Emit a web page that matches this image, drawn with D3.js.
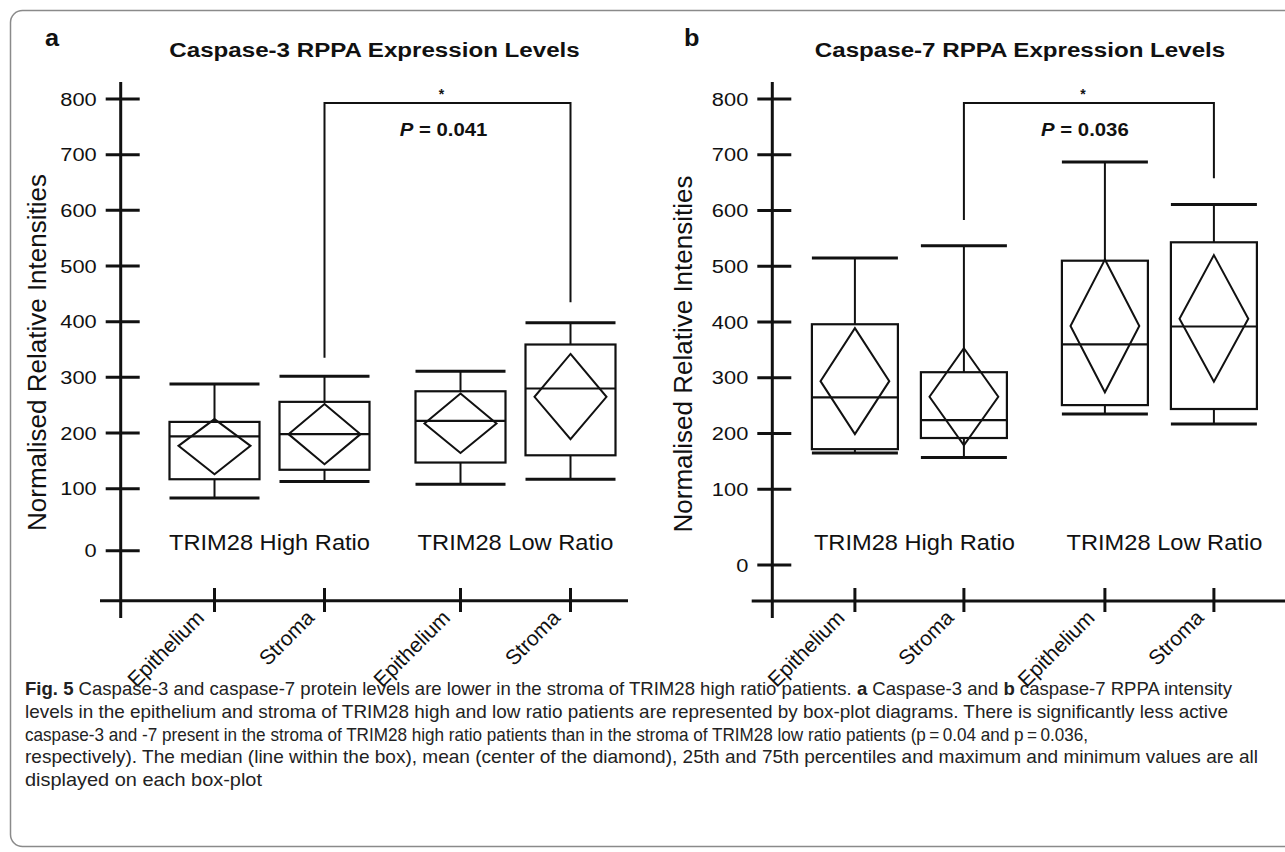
<!DOCTYPE html>
<html>
  <head>
    <meta charset="utf-8">
    <style>
      body { margin: 0; background: #fff; }
      svg { display: block; }
      text { font-family: "Liberation Sans", Arial, sans-serif; fill: #111; }
      .caption text { font-family: "Liberation Sans Narrow", "Liberation Sans", Arial, sans-serif; fill: #222; }
    </style>
  </head>
  <body>
    <svg width="1285" height="852"></svg>
    <script src="https://d3js.org/d3.v7.min.js"></script>
    <script>
      // categories
      var tissues = ["Epithelium", "Stroma"];
      var ratioGroups = ["TRIM28 High Ratio", "TRIM28 Low Ratio"];
      var yTicks = [0, 100, 200, 300, 400, 500, 600, 700, 800];

      // caspase-3 (order: high epi, high stroma, low epi, low stroma)
      var c3Max    = [288, 302, 311, 398];
      var c3Q3     = [220, 256, 275, 359];
      var c3Median = [194, 198, 222, 280];
      var c3Q1     = [117, 134, 147, 160];
      var c3Min    = [85, 113, 108, 117];
      var c3Mean   = [177, 198, 217, 265];
      var c3CiHi   = [225, 252, 271, 342];
      var c3CiLo   = [126, 144, 164, 189];
      // bracket: top, left leg end, right leg end
      var c3Bracket = [793, 335, 435];

      // caspase-7
      var c7Max    = [515, 537, 687, 611];
      var c7Q3     = [396, 310, 510, 543];
      var c7Median = [265, 224, 360, 392];
      var c7Q1     = [172, 192, 251, 244];
      var c7Min    = [165, 157, 235, 217];
      var c7Mean   = [294, 266, 393, 406];
      var c7CiHi   = [389, 353, 512, 520];
      var c7CiLo   = [199, 179, 274, 293];
      var c7Bracket = [793, 583, 658];

      var pValues = ["0.041", "0.036"];

      var captionLines = [
        [["Fig. 5", true], ["  Caspase-3 and caspase-7 protein levels are lower in the stroma of TRIM28 high ratio patients. ", false], ["a", true], [" Caspase-3 and ", false], ["b", true], [" caspase-7 RPPA intensity", false]],
        [["levels in the epithelium and stroma of TRIM28 high and low ratio patients are represented by box-plot diagrams. There is significantly less active", false]],
        [["caspase-3 and -7 present in the stroma of TRIM28 high ratio patients than in the stroma of TRIM28 low ratio patients (p\u2009=\u20090.04 and p\u2009=\u20090.036,", false]],
        [["respectively). The median (line within the box), mean (center of the diamond), 25th and 75th percentiles and maximum and minimum values are all", false]],
        [["displayed on each box-plot", false]]
      ];
      var captionWidths = [1207, 1203, 1063, 1233, 237];

      var svg = d3.select("svg");

      // frame
      svg.append("rect")
        .attr("x", 10.5).attr("y", 10.5)
        .attr("width", 1320).attr("height", 836)
        .attr("rx", 12)
        .attr("fill", "none")
        .attr("stroke", "#8a8a8a")
        .attr("stroke-width", 1.5);

      function txt(g, x, y, s, size, sx, opts) {
        opts = opts || {};
        var t = g.append("text")
          .attr("transform", "translate(" + x + "," + y + ") scale(" + sx + ",1)" + (opts.rotate ? " rotate(" + opts.rotate + ")" : ""))
          .attr("font-size", size)
          .attr("text-anchor", opts.anchor || "middle")
          .attr("font-weight", opts.bold ? "bold" : "normal")
          .text(s);
        if (opts.dy) t.attr("dy", opts.dy);
        return t;
      }

      function drawPanel(p) {
        var g = svg.append("g");

        var y = d3.scaleLinear()
          .domain([0, 100, 800])
          .range(p.yRange);

        var groupX = d3.scalePoint().domain(ratioGroups).range(p.groupRange);
        var subX = d3.scalePoint().domain(tissues).range([-p.subOffset, p.subOffset]);

        var boxes = [];
        ratioGroups.forEach(function(grp, gi) {
          tissues.forEach(function(ts, ti) {
            var i = gi * 2 + ti;
            boxes.push({
              x: groupX(grp) + subX(ts), tissue: ts,
              max: p.max[i], q3: p.q3[i], med: p.median[i], q1: p.q1[i], min: p.min[i],
              mean: p.mean[i], hi: p.ciHi[i], lo: p.ciLo[i]
            });
          });
        });

        // y axis
        g.append("line")
          .attr("x1", p.axisX).attr("x2", p.axisX)
          .attr("y1", 82).attr("y2", 618)
          .attr("stroke", "#111").attr("stroke-width", 3);
        g.selectAll(".ytick").data(yTicks).enter().append("line")
          .attr("x1", p.axisX - 15).attr("x2", p.axisX + 19)
          .attr("y1", function(d) { return y(d); })
          .attr("y2", function(d) { return y(d); })
          .attr("stroke", "#111").attr("stroke-width", 3);
        yTicks.forEach(function(v) {
          txt(g, p.axisX - 24, y(v), v, 19, 1.15, { anchor: "end", dy: "0.35em" });
        });

        // x axis
        g.append("line")
          .attr("x1", p.xAxis[0]).attr("x2", p.xAxis[1])
          .attr("y1", p.xAxisY).attr("y2", p.xAxisY)
          .attr("stroke", "#111").attr("stroke-width", 3);
        g.selectAll(".xtick").data(boxes).enter().append("line")
          .attr("x1", function(d) { return d.x; })
          .attr("x2", function(d) { return d.x; })
          .attr("y1", 588).attr("y2", 612)
          .attr("stroke", "#111").attr("stroke-width", 3);
        boxes.forEach(function(d) {
          txt(g, d.x - 9, 619, d.tissue, 21, 1, { anchor: "end", rotate: -45 });
        });

        // boxes
        var bw = p.boxWidth, dw = bw * 0.8;
        var bg = g.selectAll(".box").data(boxes).enter().append("g")
          .attr("fill", "none").attr("stroke", "#111");

        bg.append("line")
          .attr("x1", function(d) { return d.x; }).attr("x2", function(d) { return d.x; })
          .attr("y1", function(d) { return y(d.max); }).attr("y2", function(d) { return y(d.q3); })
          .attr("stroke-width", 2);
        bg.append("line")
          .attr("x1", function(d) { return d.x; }).attr("x2", function(d) { return d.x; })
          .attr("y1", function(d) { return y(d.q1); }).attr("y2", function(d) { return y(d.min); })
          .attr("stroke-width", 2);
        bg.append("line")
          .attr("x1", function(d) { return d.x - bw / 2; }).attr("x2", function(d) { return d.x + bw / 2; })
          .attr("y1", function(d) { return y(d.max); }).attr("y2", function(d) { return y(d.max); })
          .attr("stroke-width", 3);
        bg.append("line")
          .attr("x1", function(d) { return d.x - bw / 2; }).attr("x2", function(d) { return d.x + bw / 2; })
          .attr("y1", function(d) { return y(d.min); }).attr("y2", function(d) { return y(d.min); })
          .attr("stroke-width", 3);
        bg.append("rect")
          .attr("x", function(d) { return d.x - bw / 2; })
          .attr("y", function(d) { return y(d.q3); })
          .attr("width", bw)
          .attr("height", function(d) { return y(d.q1) - y(d.q3); })
          .attr("stroke-width", 2.2);
        bg.append("line")
          .attr("x1", function(d) { return d.x - bw / 2; }).attr("x2", function(d) { return d.x + bw / 2; })
          .attr("y1", function(d) { return y(d.med); }).attr("y2", function(d) { return y(d.med); })
          .attr("stroke-width", 2.2);
        bg.append("path")
          .attr("d", function(d) {
            return "M" + d.x + "," + y(d.hi) +
              "L" + (d.x + dw / 2) + "," + y(d.mean) +
              "L" + d.x + "," + y(d.lo) +
              "L" + (d.x - dw / 2) + "," + y(d.mean) + "Z";
          })
          .attr("stroke-width", 2)
          .attr("stroke-linejoin", "miter");

        // significance bracket between the two stroma boxes
        var bl = boxes[1].x, br = boxes[3].x, by = y(p.bracket[0]);
        g.append("path")
          .attr("d", "M" + bl + "," + y(p.bracket[1]) + "V" + by + "H" + br + "V" + y(p.bracket[2]))
          .attr("fill", "none").attr("stroke", "#111").attr("stroke-width", 2);
        var bc = (bl + br) / 2;
        txt(g, bc - 6, by - 4, "*", 14, 1, { bold: true });
        var pt = g.append("text")
          .attr("transform", "translate(" + (bc - 4) + "," + (by + 33) + ") scale(1.1,1)")
          .attr("font-size", 18.5).attr("font-weight", "bold")
          .attr("text-anchor", "middle");
        pt.append("tspan").attr("font-style", "italic").text("P");
        pt.append("tspan").text(" = " + p.pValue);

        // group labels
        ratioGroups.forEach(function(grp) {
          txt(g, groupX(grp) + p.labelDx, 550, grp, 21.5, 1.1);
        });

        // y label
        txt(g, p.ylabelX, p.ylabelY, "Normalised Relative Intensities", 26, 1, { rotate: -90 });

        // title and panel letter
        txt(g, p.titleX, 57, p.title, 21, 1.15, { bold: true });
        txt(g, p.letterX, 46, p.letter, 23, 1.1, { bold: true, anchor: "start" });
      }

      drawPanel({
        letter: "a", letterX: 45, title: "Caspase-3 RPPA Expression Levels", titleX: 374.5,
        yRange: [550.7, 488.7, 99], axisX: 120.7, xAxis: [100, 628], xAxisY: 600.7,
        groupRange: [269.5, 515.5], subOffset: 55, boxWidth: 90, labelDx: 0,
        ylabelX: 45.5, ylabelY: 352.5,
        max: c3Max, q3: c3Q3, median: c3Median, q1: c3Q1, min: c3Min,
        mean: c3Mean, ciHi: c3CiHi, ciLo: c3CiLo, bracket: c3Bracket, pValue: pValues[0]
      });

      drawPanel({
        letter: "b", letterX: 684, title: "Caspase-7 RPPA Expression Levels", titleX: 1020,
        yRange: [565, 489.3, 99], axisX: 772.3, xAxis: [751.7, 1285], xAxisY: 601,
        groupRange: [909.4, 1159.4], subOffset: 54.5, boxWidth: 86, labelDx: 5,
        ylabelX: 692, ylabelY: 354,
        max: c7Max, q3: c7Q3, median: c7Median, q1: c7Q1, min: c7Min,
        mean: c7Mean, ciHi: c7CiHi, ciLo: c7CiLo, bracket: c7Bracket, pValue: pValues[1]
      });

      // caption
      var cap = svg.append("g").attr("class", "caption");
      captionLines.forEach(function(line, i) {
        var t = cap.append("text")
          .attr("x", 25)
          .attr("y", 695 + i * 22.8)
          .attr("font-size", 18.5)
          .attr("textLength", captionWidths[i])
          .attr("lengthAdjust", "spacingAndGlyphs");
        line.forEach(function(part) {
          t.append("tspan")
            .attr("font-weight", part[1] ? "bold" : "normal")
            .text(part[0]);
        });
      });
    </script>
  </body>
</html>
